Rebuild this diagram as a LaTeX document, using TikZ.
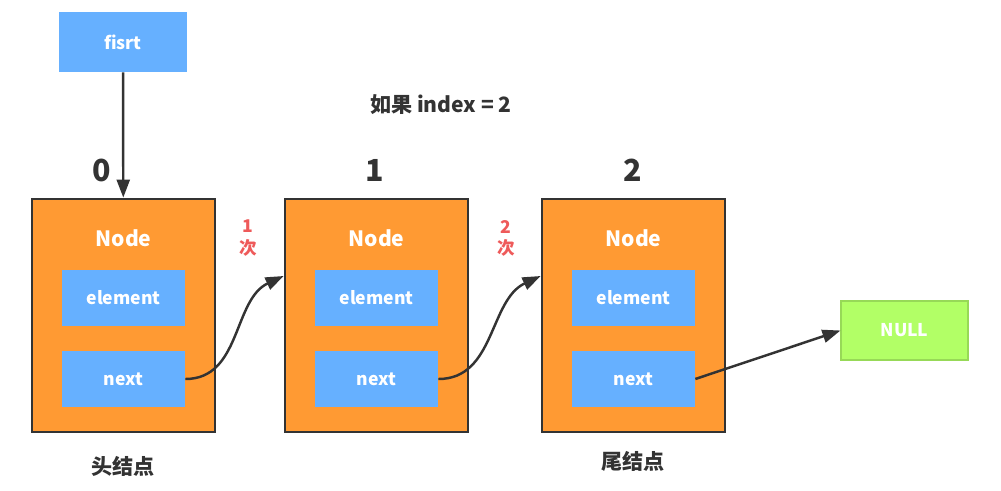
\documentclass[tikz,border=0pt]{standalone}
\usepackage{fontspec}
\setmainfont{Noto Sans CJK SC}
\usetikzlibrary{arrows.meta,calc}
\definecolor{nodeorange}{HTML}{FF9A33}
\definecolor{fieldblue}{HTML}{66B0FF}
\definecolor{nullgreen}{HTML}{B2FF66}
\definecolor{countred}{HTML}{EE5A5A}
\definecolor{inkgray}{HTML}{333333}
\begin{document}
\begin{tikzpicture}[font=\bfseries,text=inkgray,>={Triangle[length=3.6mm,width=2.6mm]},
  lnode/.style={draw=inkgray,line width=1.6pt,fill=nodeorange,minimum width=3.66cm,minimum height=4.66cm},
  fld/.style={fill=fieldblue,text=white,minimum width=2.46cm,minimum height=1.12cm,font=\bfseries},
  lnk/.style={->,line width=1.4pt,draw=inkgray}]
  \useasboundingbox (0,0) rectangle (20.02,-9.8);
  \node[fld,minimum width=2.56cm,minimum height=1.2cm] (first) at (2.46,-0.84) {fisrt};
  \node at (8.82,-2.1) {\large 如果 index = 2};
  % the three list nodes
  \node[lnode] (n0) at (2.47,-6.31) {};
  \node[lnode] (n1) at (7.53,-6.31) {};
  \node[lnode] (n2) at (12.67,-6.31) {};
  \node[text=white,font=\bfseries\large] at (2.47,-4.76) {Node};
  \node[text=white,font=\bfseries\large] at (7.53,-4.76) {Node};
  \node[text=white,font=\bfseries\large] at (12.67,-4.76) {Node};
  \node[fld] (el0) at (2.47,-5.96) {element};
  \node[fld] (el1) at (7.53,-5.96) {element};
  \node[fld] (el2) at (12.67,-5.96) {element};
  \node[fld] (nx0) at (2.47,-7.58) {next};
  \node[fld] (nx1) at (7.53,-7.58) {next};
  \node[fld] (nx2) at (12.67,-7.58) {next};
  \node[draw=nullgreen!85!black,line width=0.6pt,fill=nullgreen,text=white,font=\bfseries,
    minimum width=2.54cm,minimum height=1.18cm] (null) at (18.09,-6.61) {NULL};
  % indexes
  \node[font=\bfseries\LARGE] at (2.04,-3.4) {0};
  \node[font=\bfseries\LARGE] at (7.5,-3.4) {1};
  \node[font=\bfseries\LARGE] at (12.66,-3.4) {2};
  \node[text=countred,align=center,font=\bfseries,inner sep=0pt] at (4.96,-4.76) {1\\次};
  \node[text=countred,align=center,font=\bfseries,inner sep=0pt] at (10.12,-4.76) {2\\次};
  \node[font=\bfseries\large] at (2.46,-9.32) {头结点};
  \node[font=\bfseries\large] at (12.66,-9.22) {尾结点};
  \draw[lnk] (first) -- (n0);
  \draw[lnk] (nx0.east) to[out=0,in=205] ($(n1.west)+(0,0.79)$);
  \draw[lnk] (nx1.east) to[out=0,in=205] ($(n2.west)+(0,0.79)$);
  \draw[lnk] (nx2.east) -- (null.west);
\end{tikzpicture}
\end{document}
